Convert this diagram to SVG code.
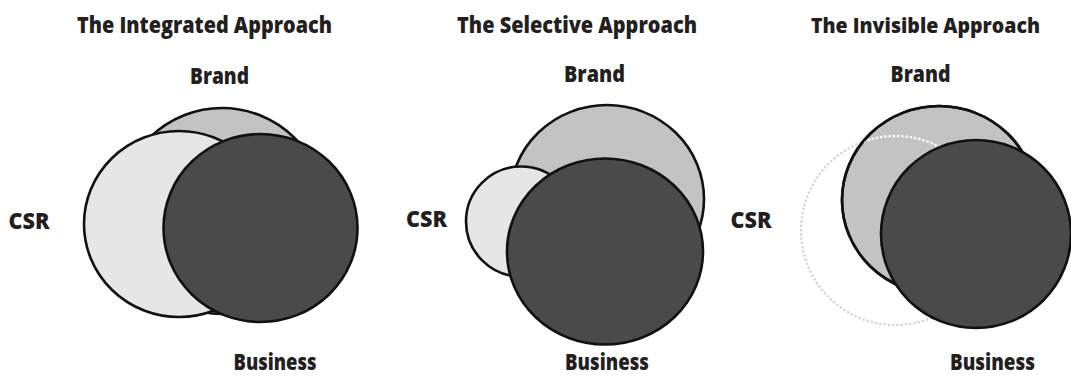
<svg xmlns="http://www.w3.org/2000/svg" width="1071" height="376" viewBox="0 0 1071 376">
  <style>
    .t { font-family: "Open Sans", "Liberation Sans", sans-serif; font-weight: 800; font-size: 23px; fill: #231f20; }
    .b { font-size: 22px; }
    .s { font-size: 21px; }
    .c { stroke: #111; stroke-width: 2.6; }
    .brand { fill: #c3c3c3; }
    .csr { fill: #e6e6e6; }
    .biz { fill: #4a4a4a; }
    .dot { fill: none; stroke-width: 2.6; stroke-linecap: round; stroke-dasharray: 0.1 4.2; }
  </style>
  <defs>
    <clipPath id="brand3clip">
      <ellipse cx="939" cy="200" rx="97" ry="94"/>
    </clipPath>
  </defs>
  <rect width="1071" height="376" fill="#fff"/>

  <g id="panel-integrated">
    <text class="t" x="77" y="32.5" textLength="255" lengthAdjust="spacingAndGlyphs">The Integrated Approach</text>
    <g id="brand1"><circle class="c brand" cx="222" cy="211" r="103"/><text class="t" x="190" y="83.5" textLength="59" lengthAdjust="spacingAndGlyphs">Brand</text></g>
    <g id="csr1"><ellipse class="c csr" cx="179" cy="224" rx="95" ry="93"/><text class="t" x="8.5" y="228.5" textLength="41" lengthAdjust="spacingAndGlyphs">CSR</text></g>
    <g id="business1"><ellipse class="c biz" cx="260.5" cy="228" rx="97" ry="94"/><text class="t b" x="233.5" y="369.5" textLength="83" lengthAdjust="spacingAndGlyphs">Business</text></g>
  </g>

  <g id="panel-selective">
    <text class="t" x="457" y="32.5" textLength="240" lengthAdjust="spacingAndGlyphs">The Selective Approach</text>
    <g id="brand2"><ellipse class="c brand" cx="607" cy="199" rx="97" ry="94"/><text class="t" x="564" y="82" textLength="61" lengthAdjust="spacingAndGlyphs">Brand</text></g>
    <g id="csr2"><circle class="c csr" cx="521" cy="221.5" r="55"/><text class="t" x="406" y="227" textLength="41" lengthAdjust="spacingAndGlyphs">CSR</text></g>
    <g id="business2"><ellipse class="c biz" cx="605" cy="251.5" rx="98" ry="93"/><text class="t b" x="565" y="369.5" textLength="84" lengthAdjust="spacingAndGlyphs">Business</text></g>
  </g>

  <g id="panel-invisible">
    <text class="t s" x="811" y="32.5" textLength="229" lengthAdjust="spacingAndGlyphs">The Invisible Approach</text>
    <g id="csr3"><circle class="dot" stroke="#d6d6d6" cx="895.5" cy="230.5" r="94.5"/><text class="t" x="730.5" y="227.5" textLength="41" lengthAdjust="spacingAndGlyphs">CSR</text></g>
    <g id="brand3"><ellipse class="c brand" cx="939" cy="200" rx="97" ry="94"/>
      <circle class="dot" stroke="#ffffff" cx="895.5" cy="230.5" r="94.5" clip-path="url(#brand3clip)"/>
      <ellipse cx="939" cy="200" rx="97" ry="94" fill="none" class="c"/>
      <text class="t" x="890.5" y="82" textLength="60" lengthAdjust="spacingAndGlyphs">Brand</text></g>
    <g id="business3"><ellipse class="c biz" cx="976" cy="234" rx="95" ry="94"/><text class="t b" x="950" y="369.5" textLength="85" lengthAdjust="spacingAndGlyphs">Business</text></g>
  </g>

  <g id="connectors"/>
</svg>
